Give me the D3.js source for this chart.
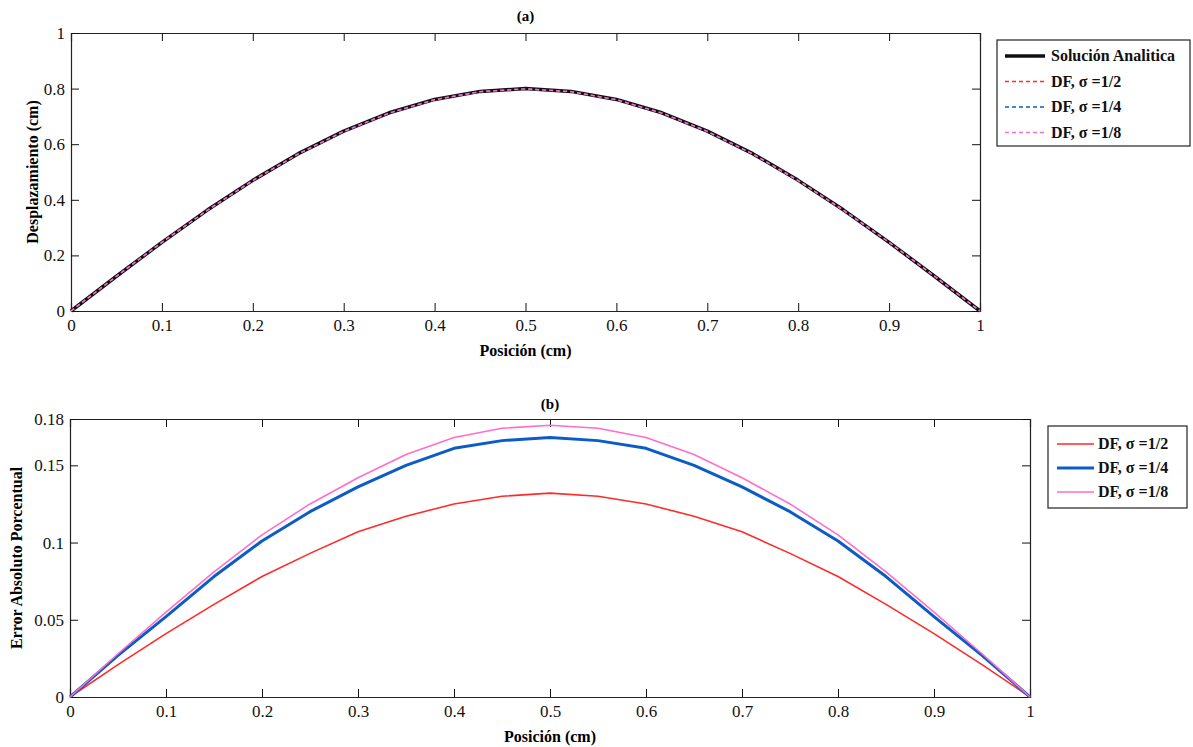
<!DOCTYPE html>
<html>
<head>
<meta charset="utf-8">
<script src="https://cdn.jsdelivr.net/npm/d3@7"></script>
<style>
  html, body { margin: 0; padding: 0; background: #fff; }
  svg { display: block; font-family: "Liberation Serif", "DejaVu Serif", serif; }
  .tick line { stroke: #111; }
  .domain { stroke: #222; }
</style>
</head>
<body>
<svg id="chart" width="1193" height="747"></svg>
<script>
// Node positions along the bar (cm)
const positions = [0, 0.05, 0.1, 0.15, 0.2, 0.25, 0.3, 0.35, 0.4, 0.45, 0.5,
                   0.55, 0.6, 0.65, 0.7, 0.75, 0.8, 0.85, 0.9, 0.95, 1];

// (a) displacement (cm)
const analytic = [0, 0.125, 0.247, 0.363, 0.470, 0.566, 0.647, 0.713, 0.761, 0.790, 0.800,
                  0.790, 0.761, 0.713, 0.647, 0.566, 0.470, 0.363, 0.247, 0.125, 0];
const dfHalf   = [0, 0.125, 0.247, 0.363, 0.470, 0.565, 0.646, 0.712, 0.760, 0.789, 0.799,
                  0.789, 0.760, 0.712, 0.646, 0.565, 0.470, 0.363, 0.247, 0.125, 0];
const dfQuarter= [0, 0.125, 0.247, 0.362, 0.469, 0.565, 0.646, 0.712, 0.760, 0.789, 0.799,
                  0.789, 0.760, 0.712, 0.646, 0.565, 0.469, 0.362, 0.247, 0.125, 0];
const dfEighth = [0, 0.125, 0.247, 0.362, 0.469, 0.565, 0.646, 0.712, 0.760, 0.789, 0.799,
                  0.789, 0.760, 0.712, 0.646, 0.565, 0.469, 0.362, 0.247, 0.125, 0];

// (b) absolute percentage error
const errHalf    = [0, 0.021, 0.041, 0.060, 0.078, 0.093, 0.107, 0.117, 0.125, 0.130, 0.132,
                    0.130, 0.125, 0.117, 0.107, 0.093, 0.078, 0.060, 0.041, 0.021, 0];
const errQuarter = [0, 0.027, 0.052, 0.078, 0.101, 0.120, 0.136, 0.150, 0.161, 0.166, 0.168,
                    0.166, 0.161, 0.150, 0.136, 0.120, 0.101, 0.078, 0.052, 0.027, 0];
const errEighth  = [0, 0.028, 0.055, 0.081, 0.105, 0.125, 0.142, 0.157, 0.168, 0.174, 0.176,
                    0.174, 0.168, 0.157, 0.142, 0.125, 0.105, 0.081, 0.055, 0.028, 0];

// Tick values and labels
const xTicks = [0, 0.1, 0.2, 0.3, 0.4, 0.5, 0.6, 0.7, 0.8, 0.9, 1];
const xTickLabels = ["0", "0.1", "0.2", "0.3", "0.4", "0.5", "0.6", "0.7", "0.8", "0.9", "1"];
const yTicksA = [0, 0.2, 0.4, 0.6, 0.8, 1];
const yTickLabelsA = ["0", "0.2", "0.4", "0.6", "0.8", "1"];
const yTicksB = [0, 0.05, 0.1, 0.15, 0.18];
const yTickLabelsB = ["0", "0.05", "0.1", "0.15", "0.18"];

const legendA = ["Solución Analitica", "DF, σ =1/2", "DF, σ =1/4", "DF, σ =1/8"];
const legendB = ["DF, σ =1/2", "DF, σ =1/4", "DF, σ =1/8"];

const RED = "#ff2a2a", BLUE = "#0b5cc4", PINK = "#ff6ec7";
const SERIF = "'Liberation Serif', 'DejaVu Serif', serif";

const svg = d3.select("#chart");

// serif tick labels instead of the axis default sans-serif
function styleAxis(sel) {
  sel.attr("font-family", SERIF).attr("font-size", 17);
  sel.selectAll(".tick text").attr("fill", "#111").style("font-family", SERIF);
}

function panel(cfg) {
  const { left, right, top, bottom } = cfg.box;
  const x = d3.scaleLinear().domain([0, 1]).range([left, right]);
  const y = d3.scaleLinear().domain(cfg.yDomain).range([bottom, top]);
  const g = svg.append("g");
  const T = 8;

  const xl = v => xTickLabels[xTicks.indexOf(v)];
  g.append("g").attr("transform", `translate(0,${bottom})`)
    .call(d3.axisBottom(x).tickValues(xTicks).tickSize(-T).tickPadding(8).tickFormat(xl))
    .call(styleAxis);
  g.append("g").attr("transform", `translate(0,${top})`)
    .call(d3.axisTop(x).tickValues(xTicks).tickSize(-T).tickFormat(""));
  const yl = v => cfg.yLabels[cfg.yTicks.indexOf(v)];
  g.append("g").attr("transform", `translate(${left},0)`)
    .call(d3.axisLeft(y).tickValues(cfg.yTicks).tickSize(-T).tickPadding(6).tickFormat(yl))
    .call(styleAxis);
  g.append("g").attr("transform", `translate(${right},0)`)
    .call(d3.axisRight(y).tickValues(cfg.yTicks).tickSize(-T).tickFormat(""));
  g.selectAll(".domain").attr("stroke-width", 1.2);

  const line = d3.line().x((d, i) => x(positions[i])).y(d => y(d));
  cfg.series.forEach(s => {
    g.append("path").datum(s.values)
      .attr("d", line)
      .attr("fill", "none")
      .attr("stroke", s.color)
      .attr("stroke-width", s.width)
      .attr("stroke-dasharray", s.dash || null)
      .attr("stroke-linejoin", "round");
  });

  const cx = (left + right) / 2;
  g.append("text").attr("x", cx).attr("y", cfg.titleY)
    .attr("text-anchor", "middle").attr("font-size", 15).attr("font-weight", "bold")
    .text(cfg.title);
  g.append("text").attr("x", cx).attr("y", bottom + 45)
    .attr("text-anchor", "middle").attr("font-size", 16).attr("font-weight", "bold")
    .text("Posición (cm)");
  g.append("text")
    .attr("transform", `translate(${cfg.yTitleX},${(top + bottom) / 2}) rotate(-90)`)
    .attr("text-anchor", "middle").attr("font-size", 16).attr("font-weight", "bold")
    .text(cfg.yTitle);

  // legend
  const L = cfg.legend;
  const lg = svg.append("g");
  lg.append("rect").attr("x", L.x).attr("y", L.y).attr("width", L.w).attr("height", L.h)
    .attr("fill", "#fff").attr("stroke", "#222").attr("stroke-width", 1.2);
  L.items.forEach((label, i) => {
    const s = cfg.series[i];
    const yy = L.y + L.first + i * L.step;
    lg.append("line").attr("x1", L.x + L.l0).attr("x2", L.x + L.l1)
      .attr("y1", yy).attr("y2", yy)
      .attr("stroke", s.color).attr("stroke-width", s.width)
      .attr("stroke-dasharray", s.dash || null);
    lg.append("text").attr("x", L.x + L.tx).attr("y", yy + 5)
      .attr("font-size", 16).attr("font-weight", "bold").attr("fill", "#111")
      .text(label);
  });
}

panel({
  box: { left: 71, right: 980, top: 33, bottom: 311 },
  yDomain: [0, 1], yTicks: yTicksA, yLabels: yTickLabelsA,
  title: "(a)", titleY: 21, yTitle: "Desplazamiento (cm)", yTitleX: 38,
  series: [
    { values: analytic, color: "#111", width: 3.5 },
    { values: dfHalf, color: RED, width: 1.6, dash: "4,3" },
    { values: dfQuarter, color: BLUE, width: 1.4, dash: "4,3" },
    { values: dfEighth, color: PINK, width: 1.4, dash: "4,3" }
  ],
  legend: { x: 997, y: 40, w: 193, h: 106, first: 16, step: 25.5,
            l0: 8, l1: 48, tx: 54, items: legendA }
});

panel({
  box: { left: 70, right: 1030, top: 419, bottom: 697 },
  yDomain: [0, 0.18], yTicks: yTicksB, yLabels: yTickLabelsB,
  title: "(b)", titleY: 409, yTitle: "Error Absoluto Porcentual", yTitleX: 22,
  series: [
    { values: errHalf, color: RED, width: 1.6 },
    { values: errQuarter, color: BLUE, width: 3 },
    { values: errEighth, color: PINK, width: 1.6 }
  ],
  legend: { x: 1048, y: 426, w: 139, h: 82, first: 18, step: 24,
            l0: 9, l1: 46, tx: 50, items: legendB }
});
</script>
</body>
</html>
